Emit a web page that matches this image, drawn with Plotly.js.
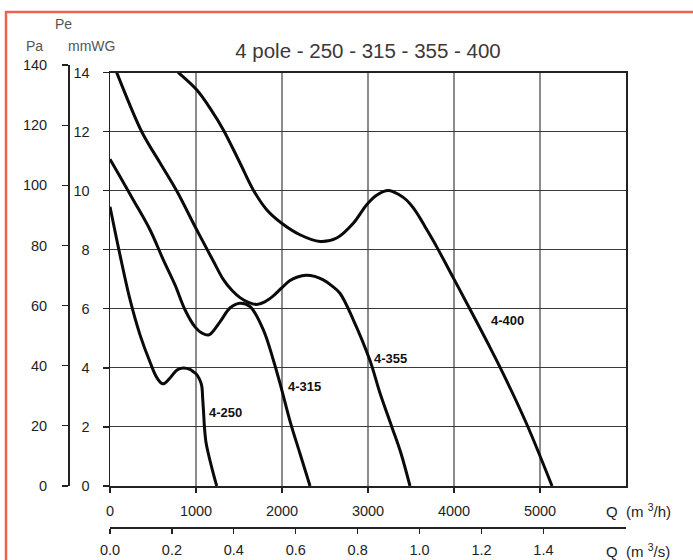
<!DOCTYPE html>
<html>
<head>
<meta charset="utf-8">
<script src="https://cdn.plot.ly/plotly-3.0.1.min.js"></script>
<style>
html,body{margin:0;padding:0;background:#fff;}
#chart{width:693px;height:560px;}
</style>
</head>
<body>
<div id="chart"></div>
<script>
// ---- data (Q in m3/h, Pe in mmWG) ----
const q250 = [0, 116, 233, 349, 465, 547, 616, 698, 779, 849, 930, 969, 1000, 1040, 1066, 1078, 1090, 1098, 1115, 1143, 1190, 1241];
const p250 = [9.46, 7.83, 6.31, 5.12, 4.2, 3.66, 3.46, 3.66, 3.93, 4.0, 3.95, 3.87, 3.8, 3.62, 3.4, 2.95, 2.4, 2.0, 1.5, 1.1, 0.55, 0];

const q315 = [0, 116, 271, 465, 620, 756, 872, 988, 1070, 1150, 1279, 1395, 1512, 1628, 1783, 1899, 1988, 2093, 2209, 2326];
const p315 = [11.07, 10.48, 9.69, 8.68, 7.66, 6.81, 5.97, 5.39, 5.18, 5.12, 5.56, 6.03, 6.19, 6.08, 5.29, 4.27, 3.36, 2.2, 1.1, 0];

const q355 = [40, 78, 369, 581, 775, 1008, 1201, 1317, 1420, 1512, 1610, 1706, 1800, 1899, 2000, 2093, 2180, 2280, 2380, 2480, 2580, 2674, 2829, 3023, 3140, 3276, 3384, 3488];
const p355 = [14.27, 14.0, 12.0, 10.95, 10.0, 8.68, 7.62, 7.0, 6.62, 6.38, 6.22, 6.15, 6.24, 6.44, 6.72, 6.96, 7.08, 7.14, 7.1, 6.98, 6.78, 6.53, 5.63, 4.25, 3.14, 2.01, 1.1, 0];

const q400 = [740, 794, 1008, 1174, 1317, 1512, 1666, 1822, 1997, 2209, 2442, 2636, 2829, 2985, 3100, 3236, 3372, 3450, 3527, 3600, 3660, 3799, 3992, 4166, 4400, 4573, 4845, 5140];
const p400 = [14.16, 14.01, 13.42, 12.75, 12.07, 10.94, 10.03, 9.36, 8.9, 8.51, 8.28, 8.4, 8.9, 9.53, 9.85, 10.01, 9.85, 9.68, 9.42, 9.1, 8.8, 8.1, 7.05, 6.1, 4.8, 3.8, 2.1, 0];

const seriesNames = ['4-250', '4-315', '4-355', '4-400'];
const qTicks = [0, 1000, 2000, 3000, 4000, 5000];
const qsTicks = [0.0, 0.2, 0.4, 0.6, 0.8, 1.0, 1.2, 1.4];
const qsTickText = ['0.0', '0.2', '0.4', '0.6', '0.8', '1.0', '1.2', '1.4'];
const mmTicks = [0, 2, 4, 6, 8, 10, 12, 14];
const paTicks = [0, 20, 40, 60, 80, 100, 120, 140];

// ---- layout geometry helpers (pixels -> paper) ----
const W = 693, H = 560;
const mL = 60, mR = 67, mT = 65, mB = 30;
const pw = W - mL - mR, ph = H - mT - mB;
const px = v => (v - mL) / pw;
const py = v => (H - mB - v) / ph;

const FONT = 'Liberation Sans, Arial, sans-serif';
const TXT = '#1e1e1e';

const qData = [q250, q315, q355, q400];
const pData = [p250, p315, p355, p400];

const traces = seriesNames.map((n, i) => ({
  x: qData[i], y: pData[i], name: n, type: 'scatter', mode: 'lines',
  line: {color: '#0a0a0a', width: 3, shape: 'spline', smoothing: 1},
  xaxis: 'x', yaxis: 'y', hoverinfo: 'x+y+name', showlegend: false
}));
// invisible helper trace that carries the secondary axes (m3/s and Pa)
traces.push({x: [0], y: [0], xaxis: 'x2', yaxis: 'y2', mode: 'markers',
  marker: {opacity: 0}, hoverinfo: 'skip', showlegend: false});

const xd = [px(110), 1];
const yd = [py(486), py(72.7)];

const labelPos = [[1343, 2.48], [2256, 3.36], [3267, 4.31], [4622, 5.60]];

const annotations = seriesNames.map((n, i) => ({
  x: labelPos[i][0], y: labelPos[i][1], xref: 'x', yref: 'y',
  text: '<b>' + n + '</b>', showarrow: false,
  font: {family: FONT, size: 13, color: '#111'}
}));
const small = (t, x, y, anchor) => ({
  text: t, xref: 'paper', yref: 'paper', x: px(x), y: py(y),
  xanchor: anchor || 'center', yanchor: 'middle', showarrow: false,
  font: {family: FONT, size: 14, color: '#555'}
});
annotations.push(small('Pe', 63, 24));
annotations.push(small('Pa', 34, 46));
annotations.push(small('mmWG', 91.5, 46));
annotations.push(Object.assign(small('Q  (m <sup>3</sup>/h)', 604, 510, 'left'), {font: {family: FONT, size: 15, color: TXT}}));
annotations.push(Object.assign(small('Q  (m <sup>3</sup>/s)', 604, 550, 'left'), {font: {family: FONT, size: 15, color: TXT}}));

const border = '#e8644f';
const shapes = [
  {type: 'line', xref: 'paper', yref: 'paper', x0: px(6), x1: px(6), y0: py(11), y1: py(570), line: {color: border, width: 2.5}},
  {type: 'line', xref: 'paper', yref: 'paper', x0: px(5), x1: px(710), y0: py(12), y1: py(12), line: {color: border, width: 2.5}}
];

const layout = {
  width: W, height: H,
  margin: {l: mL, r: mR, t: mT, b: mB, pad: 0},
  paper_bgcolor: '#ffffff', plot_bgcolor: 'rgba(0,0,0,0)',
  font: {family: FONT, size: 14, color: TXT},
  title: {
    text: '4 pole - 250 - 315 - 355 - 400',
    font: {family: FONT, size: 20.5, color: '#3d3838'},
    x: 368 / W, xanchor: 'center', xref: 'container',
    y: 1 - 51 / H, yanchor: 'middle', yref: 'container'
  },
  xaxis: {
    domain: xd, range: [0, 6000], tickvals: qTicks, anchor: 'y',
    showline: true, mirror: true, linecolor: '#222', linewidth: 1.5,
    ticks: 'outside', ticklen: 5, tickcolor: '#222', tickwidth: 1.2,
    showgrid: true, gridcolor: '#8c8c8c', gridwidth: 1.5, zeroline: false,
    tickfont: {family: FONT, size: 14.5, color: TXT}, ticklabelstandoff: 6,
    fixedrange: true
  },
  xaxis2: {
    domain: xd, range: [0, 6000 / 3600], tickvals: qsTicks, ticktext: qsTickText,
    anchor: 'free', position: py(527), side: 'bottom',
    showline: true, linecolor: '#222', linewidth: 1.5,
    ticks: 'outside', ticklen: 5, tickcolor: '#222', tickwidth: 1.2,
    showgrid: false, zeroline: false,
    tickfont: {family: FONT, size: 14.5, color: TXT}, ticklabelstandoff: 4,
    fixedrange: true
  },
  yaxis: {
    domain: yd, range: [0, 14], tickvals: mmTicks, anchor: 'x',
    showline: true, mirror: true, linecolor: '#222', linewidth: 1.5,
    ticks: 'outside', ticklen: 6, tickcolor: '#222', tickwidth: 1.2,
    showgrid: true, gridcolor: '#3a3a3a', gridwidth: 1, zeroline: false,
    tickfont: {family: FONT, size: 14.5, color: TXT}, ticklabelstandoff: 10,
    fixedrange: true
  },
  yaxis2: {
    domain: [yd[0], 1], range: [0, 140], tickvals: paTicks,
    anchor: 'free', position: px(68), side: 'left',
    showline: true, linecolor: '#222', linewidth: 1.5,
    ticks: 'outside', ticklen: 6, tickcolor: '#222', tickwidth: 1.2,
    showgrid: false, zeroline: false,
    tickfont: {family: FONT, size: 14.5, color: TXT}, ticklabelstandoff: 12,
    fixedrange: true
  },
  annotations: annotations,
  shapes: shapes
};

Plotly.newPlot('chart', traces, layout, {displayModeBar: false, staticPlot: true});
</script>
</body>
</html>
